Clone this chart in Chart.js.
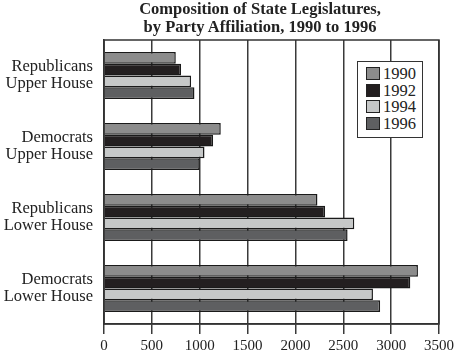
<!DOCTYPE html>
<html>
<head>
<meta charset="utf-8">
<script src="https://cdn.jsdelivr.net/npm/chart.js@4/dist/chart.umd.min.js"></script>
<style>
  html, body { margin: 0; padding: 0; background: #fff; }
  #wrap { position: relative; width: 455px; height: 355px; }
  #title { position: absolute; left: 110px; width: 300px; top: 0px; text-align: center;
           font-family: "Liberation Serif", "DejaVu Serif", serif; font-weight: bold; font-size: 16.5px;
           line-height: 18px; color: #222; }
  #legend { position: absolute; left: 357px; top: 61px; width: 66px; height: 77px;
            border: 1.5px solid #333; background: #fff; box-sizing: border-box;
            font-family: "Liberation Serif", "DejaVu Serif", serif; font-size: 16.5px; color: #222; }
  .item { position: absolute; left: 8px; height: 17px; line-height: 17px; white-space: nowrap; }
  .sw { display: inline-block; width: 14px; height: 13px; border: 1.5px solid #222; box-sizing: border-box;
        vertical-align: -1px; margin-right: 3px; }
</style>
</head>
<body>
<div id="wrap">
  <canvas id="c" width="455" height="355"></canvas>
  <div id="title"></div>
  <div id="legend"></div>
</div>
<script>
const titleLines = ["Composition of State Legislatures,", "by Party Affiliation, 1990 to 1996"];
const categories = [["Republicans", "Upper House"], ["Democrats", "Upper House"], ["Republicans", "Lower House"], ["Democrats", "Lower House"]];
const seriesNames = ["1990", "1992", "1994", "1996"];
const values1990 = [750, 1220, 2230, 3280];
const values1992 = [805, 1140, 2310, 3200];
const values1994 = [910, 1050, 2615, 2810];
const values1996 = [945, 1000, 2545, 2885];
const xTicks = [0, 500, 1000, 1500, 2000, 2500, 3000, 3500];
const colors = ["#8c8c8c", "#231f20", "#c6c8c8", "#5e5f61"];

document.getElementById('title').innerHTML = titleLines.join('<br>');
const legendEl = document.getElementById('legend');
seriesNames.forEach((n, i) => {
  const d = document.createElement('div');
  d.className = 'item';
  d.style.top = (3 + i * 16.7) + 'px';
  d.innerHTML = '<span class="sw" style="background:' + colors[i] + '"></span>' + n;
  legendEl.appendChild(d);
});

const frame = {
  id: 'frame',
  afterDatasetsDraw(chart) {
    const a = chart.chartArea, ctx = chart.ctx;
    ctx.save();
    ctx.strokeStyle = '#333';
    ctx.lineWidth = 1.5;
    ctx.strokeRect(a.left, a.top, a.right - a.left, a.bottom - a.top);
    ctx.restore();
  }
};

const allSeries = [values1990, values1992, values1994, values1996];
new Chart(document.getElementById('c'), {
  type: 'bar',
  data: {
    labels: categories,
    datasets: allSeries.map((v, i) => ({
      label: seriesNames[i],
      data: v,
      backgroundColor: colors[i],
      borderColor: '#1a1a1a',
      borderWidth: 1.5,
      barPercentage: 1.0,
      categoryPercentage: 0.66
    }))
  },
  options: {
    indexAxis: 'y',
    responsive: false,
    animation: false,
    layout: { padding: { top: 40, right: 16, left: 0, bottom: 0 } },
    plugins: { legend: { display: false }, title: { display: false }, tooltip: { enabled: false } },
    scales: {
      x: {
        min: 0, max: 3500,
        afterBuildTicks: (s) => { s.ticks = xTicks.map(v => ({ value: v })); },
        afterFit: (s) => { s.height = 31; s.paddingLeft = 0; s.paddingRight = 0; },
        grid: { color: '#3a3a3a', lineWidth: 1.5, tickLength: 10, drawTicks: true },
        border: { color: '#333', width: 1.5 },
        ticks: { color: '#222', padding: 3, maxRotation: 0,
                 callback: (v) => String(v),
                 font: { family: '"Liberation Serif", "DejaVu Serif", serif', size: 15 } }
      },
      y: {
        afterFit: (s) => { s.width = 104; s.paddingTop = 0; s.paddingBottom = 0; },
        grid: { display: false, drawTicks: false },
        border: { color: '#333', width: 1.5 },
        ticks: { color: '#222', padding: 11,
                 font: { family: '"Liberation Serif", "DejaVu Serif", serif', size: 16.5, lineHeight: 1.05 } }
      }
    }
  },
  plugins: [frame]
});
</script>
</body>
</html>
